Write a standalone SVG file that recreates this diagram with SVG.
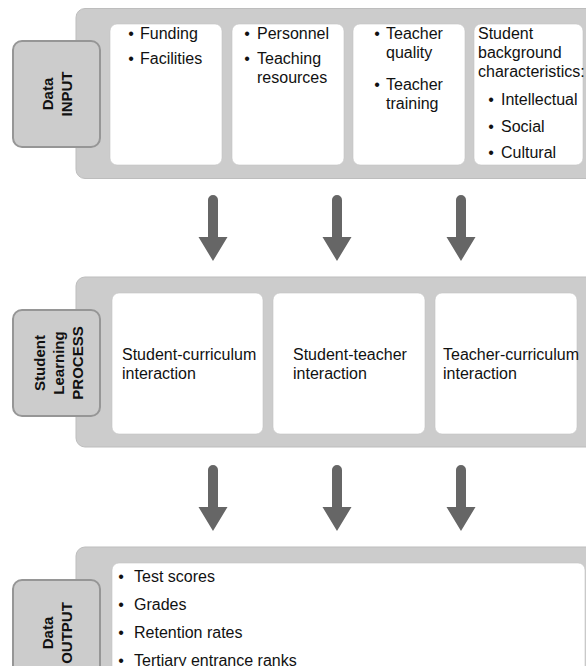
<svg xmlns="http://www.w3.org/2000/svg" width="586" height="666" viewBox="0 0 586 666">
<style>
.panel{fill:#cccccc;stroke:#bdbdbd;stroke-width:1}
.lbl{fill:#cccccc;stroke:#969696;stroke-width:2}
.box{fill:#ffffff;stroke:#c4c4c4;stroke-width:0.6}
.t{font-family:"Liberation Sans",Arial,sans-serif;font-size:16px;fill:#111111}
.b{font-family:"Liberation Sans",Arial,sans-serif;font-size:16px;fill:#111111;text-anchor:middle}
.lt{font-family:"Liberation Sans",Arial,sans-serif;font-size:15px;font-weight:bold;fill:#111111;text-anchor:middle}
.arr{fill:#666666}
</style>
<rect x="0" y="0" width="586" height="666" fill="#ffffff"/>

<g id="input">
  <rect class="panel" x="76" y="8.5" width="530" height="170" rx="9"/>
  <rect class="lbl" x="13" y="41" width="87" height="106" rx="9"/>
  <text class="lt" transform="translate(53,94) rotate(-90)">Data</text>
  <text class="lt" transform="translate(72,94) rotate(-90)">INPUT</text>
  <g id="input-funding">
    <rect class="box" x="110" y="24" width="112" height="141" rx="7"/>
    <text class="b" x="131" y="39">•</text><text class="t" x="140" y="39">Funding</text>
    <text class="b" x="131" y="64">•</text><text class="t" x="140" y="64">Facilities</text>
  </g>
  <g id="input-personnel">
    <rect class="box" x="232" y="24" width="112" height="141" rx="7"/>
    <text class="b" x="247" y="39">•</text><text class="t" x="257" y="39">Personnel</text>
    <text class="b" x="247" y="64">•</text><text class="t" x="257" y="64">Teaching</text>
    <text class="t" x="257" y="83">resources</text>
  </g>
  <g id="input-teacher">
    <rect class="box" x="353" y="24" width="112" height="141" rx="7"/>
    <text class="b" x="377" y="39">•</text><text class="t" x="386" y="39">Teacher</text>
    <text class="t" x="386" y="58">quality</text>
    <text class="b" x="377" y="90">•</text><text class="t" x="386" y="90">Teacher</text>
    <text class="t" x="386" y="109">training</text>
  </g>
  <g id="input-student">
    <rect class="box" x="474" y="24" width="109" height="141" rx="7"/>
    <text class="t" x="478" y="39">Student</text>
    <text class="t" x="478" y="58">background</text>
    <text class="t" x="478" y="77">characteristics:</text>
    <text class="b" x="491" y="105">•</text><text class="t" x="501" y="105">Intellectual</text>
    <text class="b" x="491" y="132">•</text><text class="t" x="501" y="132">Social</text>
    <text class="b" x="491" y="158">•</text><text class="t" x="501" y="158">Cultural</text>
  </g>
</g>

<g id="process">
  <rect class="panel" x="76" y="277" width="530" height="170" rx="9"/>
  <rect class="lbl" x="13" y="310" width="87" height="106" rx="9"/>
  <text class="lt" transform="translate(45,363) rotate(-90)">Student</text>
  <text class="lt" transform="translate(64,363) rotate(-90)">Learning</text>
  <text class="lt" transform="translate(83,363) rotate(-90)">PROCESS</text>
  <g id="process-sc">
    <rect class="box" x="112" y="293" width="151" height="141" rx="7"/>
    <text class="t" x="122" y="360">Student-curriculum</text>
    <text class="t" x="122" y="379">interaction</text>
  </g>
  <g id="process-st">
    <rect class="box" x="273" y="293" width="152" height="141" rx="7"/>
    <text class="t" x="293" y="360">Student-teacher</text>
    <text class="t" x="293" y="379">interaction</text>
  </g>
  <g id="process-tc">
    <rect class="box" x="435" y="293" width="142" height="141" rx="7"/>
    <text class="t" x="443" y="360">Teacher-curriculum</text>
    <text class="t" x="443" y="379">interaction</text>
  </g>
</g>

<g id="output">
  <rect class="panel" x="76" y="547" width="530" height="170" rx="9"/>
  <rect class="lbl" x="13" y="580" width="87" height="106" rx="9"/>
  <text class="lt" transform="translate(53,633) rotate(-90)">Data</text>
  <text class="lt" transform="translate(72,633) rotate(-90)">OUTPUT</text>
  <g id="output-list">
    <rect class="box" x="112" y="563" width="473" height="141" rx="7"/>
    <text class="b" x="121" y="582">•</text><text class="t" x="134" y="582">Test scores</text>
    <text class="b" x="121" y="610">•</text><text class="t" x="134" y="610">Grades</text>
    <text class="b" x="121" y="638">•</text><text class="t" x="134" y="638">Retention rates</text>
    <text class="b" x="121" y="666">•</text><text class="t" x="134" y="666">Tertiary entrance ranks</text>
  </g>
</g>

<g id="connectors">
  <defs>
    <path id="arrow" d="M-5,5 A5,5 0 0 1 5,5 L5,42 L14.5,42 L0,66 L-14.5,42 L-5,42 Z"/>
  </defs>
  <use href="#arrow" class="arr" x="213" y="195"/>
  <use href="#arrow" class="arr" x="337" y="195"/>
  <use href="#arrow" class="arr" x="461" y="195"/>
  <use href="#arrow" class="arr" x="213" y="465"/>
  <use href="#arrow" class="arr" x="337" y="465"/>
  <use href="#arrow" class="arr" x="461" y="465"/>
</g>
</svg>
